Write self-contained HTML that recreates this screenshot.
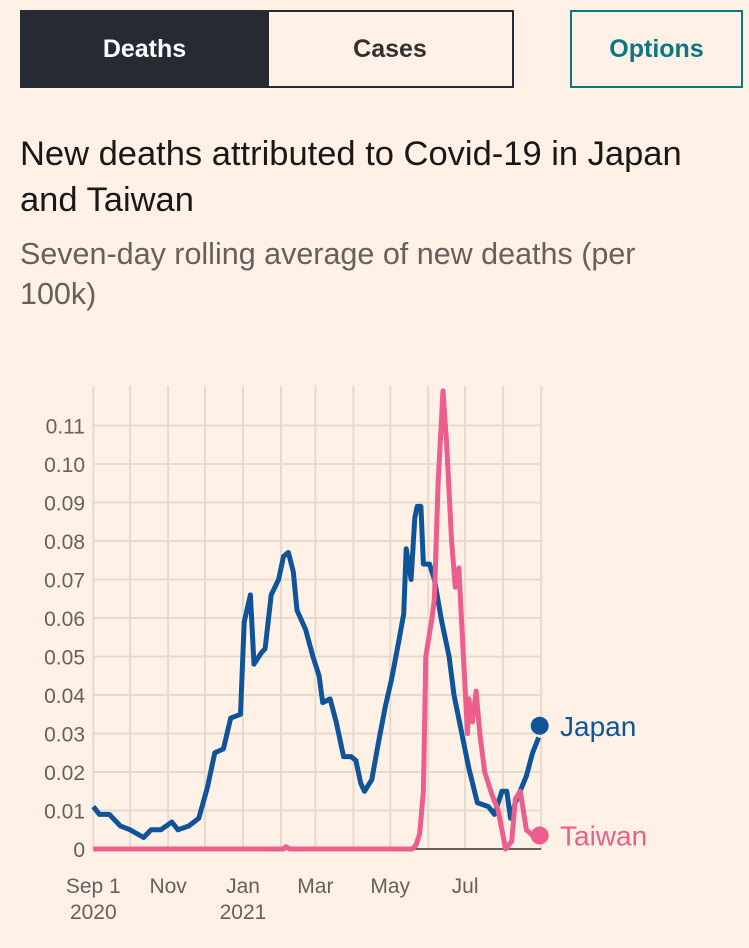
<!DOCTYPE html>
<html><head><meta charset="utf-8">
<style>
body{margin:0;width:749px;height:948px;background:#fff1e5;font-family:"Liberation Sans",sans-serif;overflow:hidden;position:relative}
.tab{position:absolute;box-sizing:border-box;display:flex;align-items:center;justify-content:center;font-weight:bold;font-size:25px}
#title{position:absolute;left:20px;top:131px;font-size:34.5px;line-height:46px;color:#1a1817;width:729px;white-space:nowrap}
#sub{position:absolute;left:20px;top:234px;font-size:30.5px;line-height:40px;color:#66605c;width:729px;white-space:nowrap}
</style></head><body>
<div class="tab" style="left:20px;top:10px;width:249px;height:78px;background:#262a33;color:#fff">Deaths</div>
<div class="tab" style="left:268px;top:10px;width:246px;height:78px;border:2px solid #262a33;border-left:none;color:#33302e">Cases</div>
<div class="tab" style="left:570px;top:10px;width:173px;height:78px;border:2px solid #0d7680;color:#0d7680">Options</div>
<div id="title">New deaths attributed to Covid-19 in Japan<br>and Taiwan</div>
<div id="sub">Seven-day rolling average of new deaths (per<br>100k)</div>
<svg id="chart" width="749" height="948" style="position:absolute;left:0;top:0"></svg>
<script>
const yTicks=[0,0.01,0.02,0.03,0.04,0.05,0.06,0.07,0.08,0.09,0.10,0.11];
const yTickLabels=["0","0.01","0.02","0.03","0.04","0.05","0.06","0.07","0.08","0.09","0.10","0.11"];
const monthDays=[0,30,61,91,122,153,181,212,242,273,303,334,365];
const xTickDays=[0,61,122,181,242,303];
const xTickLabels=["Sep 1","Nov","Jan","Mar","May","Jul"];
const xTickYears=["2020","","2021","","",""];
const japanDays=[0,5,13,22,30,41,47,55,64,69,78,86,93,99,106,112,120,123,128,131,137,140,145,151,155,159,163,166,173,179,184,187,193,198,204,210,214,218,221,227,232,238,243,249,253,255,259,262,264,267,269,274,278,284,290,294,301,306,313,322,327,333,337,340,344,353,358,363];
const japanVals=[0.011,0.009,0.009,0.006,0.005,0.003,0.005,0.005,0.007,0.005,0.006,0.008,0.016,0.025,0.026,0.034,0.035,0.059,0.066,0.048,0.051,0.052,0.066,0.070,0.076,0.077,0.072,0.062,0.057,0.050,0.045,0.038,0.039,0.033,0.024,0.024,0.023,0.017,0.015,0.018,0.027,0.037,0.044,0.054,0.061,0.078,0.070,0.086,0.089,0.089,0.074,0.074,0.070,0.059,0.050,0.040,0.029,0.021,0.012,0.011,0.009,0.015,0.015,0.008,0.012,0.019,0.025,0.029];
const taiwanDays=[0,155,157,160,260,263,266,269,271,276,278,281,285,288,292,295,298,301,305,306,309,312,315,319,325,330,336,341,344,348,353,358];
const taiwanVals=[0,0,0.0006,0,0,0.001,0.004,0.015,0.050,0.060,0.065,0.095,0.119,0.105,0.080,0.068,0.073,0.054,0.030,0.039,0.033,0.041,0.030,0.020,0.014,0.010,0.000,0.002,0.013,0.015,0.005,0.0035];
const japanEnd=0.032, taiwanEnd=0.0035, endDay=363;

const svg=document.getElementById('chart');const NS='http://www.w3.org/2000/svg';
const x0=93.3,pxDay=1.227,yBase=849,pxUnit=3850;
const X=d=>x0+d*pxDay, Y=v=>yBase-v*pxUnit;
function mk(t,a){const e=document.createElementNS(NS,t);for(const k in a)e.setAttribute(k,a[k]);svg.appendChild(e);return e;}
monthDays.forEach(d=>{const l=mk('line',{x1:X(d),x2:X(d),y1:386,y2:yBase,stroke:'#e6d9ce','stroke-width':2});

});
yTicks.forEach((v,i)=>{if(v>0){const l=mk('line',{x1:X(0),x2:X(365),y1:Y(v),y2:Y(v),stroke:'#e6d9ce','stroke-width':2});

}
const t=mk('text',{x:85,y:Y(v)+8,'text-anchor':'end','font-size':21,fill:'#66605c'});t.textContent=yTickLabels[i];

});
const base=mk('line',{x1:X(0),x2:X(365),y1:yBase,y2:yBase,stroke:'#66605c','stroke-width':2});


xTickDays.forEach((d,i)=>{const t=mk('text',{x:X(d),y:893,'text-anchor':'middle','font-size':21,fill:'#66605c'});t.textContent=xTickLabels[i];


if(xTickYears[i]){const y=mk('text',{x:X(d),y:919,'text-anchor':'middle','font-size':21,fill:'#66605c'});y.textContent=xTickYears[i];

}});
function line(days,vals,col,name){const p=mk('path',{d:days.map((d,i)=>(i?'L':'M')+X(d).toFixed(1)+','+Y(vals[i]).toFixed(1)).join(''),fill:'none',stroke:col,'stroke-width':5,'stroke-linejoin':'round'});

}
line(japanDays,japanVals,'#0f5499','japan-line');
line(taiwanDays,taiwanVals,'#eb5e8d','taiwan-line');
const dj=mk('circle',{cx:X(endDay)+1,cy:Y(japanEnd),r:9,fill:'#0f5499'});


const dt=mk('circle',{cx:X(endDay)+1,cy:Y(taiwanEnd),r:9,fill:'#eb5e8d'});


const lj=mk('text',{x:560,y:Y(japanEnd)+10,'font-size':28,fill:'#0f5499'});lj.textContent='Japan';


const lt=mk('text',{x:560,y:Y(taiwanEnd)+10,'font-size':28,fill:'#eb5e8d'});lt.textContent='Taiwan';


</script>
</body></html>
